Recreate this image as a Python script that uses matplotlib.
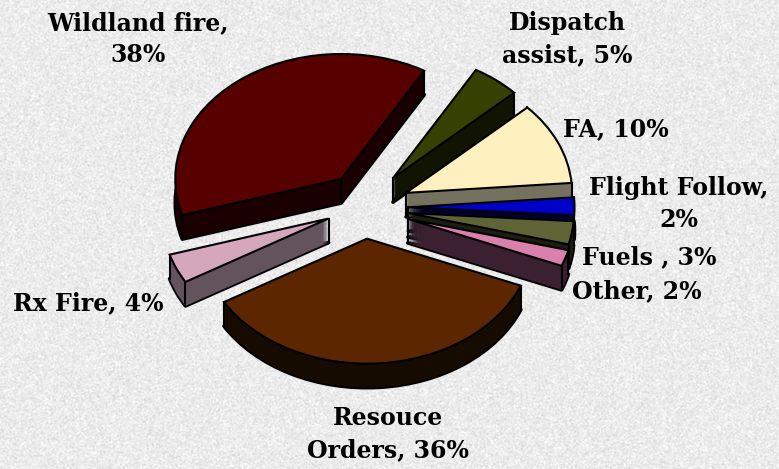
#!/usr/bin/env python
"""
Exploded 3D looking pie of dispatch workload on a speckled grey background
"""

import numpy as np
import matplotlib
matplotlib.use("Agg")
import matplotlib.pyplot as plt
from matplotlib.patches import Wedge

categories = ["Wildland fire", "Rx Fire", "Resouce Orders", "Other", "Fuels",
              "Flight Follow", "FA", "Dispatch assist"]
slice_sizes = [38.0, 3.8, 35.4, 2.1, 3.0, 2.3, 10.7, 4.7]
explode = [0.24, 0.22, 0.25, 0.29, 0.28, 0.28, 0.29, 0.30]
# The original does not pull every slice exactly along its middle, in pixels
nudge_x = [4, 0, 2, 0, 0, 0, 0, 0]
nudge_y = [-5, 0, 0, 0, 0, 0, 0, 0]
top_colors = ["#560000", "#d4a7bd", "#5c2600", "#da80ac", "#5f6437",
              "#0000c8", "#fff0c0", "#364000"]
wall_colors = ["#1a0000", "#63535c", "#160b00", "#3a2030", "#1c1e10",
               "#000030", "#75715f", "#101400"]
# Back to front, so the slices on the right overlap like in the original
draw_order = [0, 7, 6, 5, 4, 3, 1, 2]

# Label text and where it sits, in pixels of the picture
labels = ["Wildland fire,\n38%", "Dispatch\nassist, 5%", "FA, 10%",
          "Flight Follow,\n2%", "Fuels , 3%", "Other, 2%", "Rx Fire, 4%",
          "Resouce\nOrders, 36%"]
label_x = [138, 567, 616, 679, 649, 637, 88, 388]
label_y = [39, 39, 129, 204, 257, 291, 303, 434]

WIDTH, HEIGHT = 779, 469
CENTER_X, CENTER_Y = 362, 207.5
RADIUS_X, RADIUS_Y = 166, 125
DEPTH = 24 / RADIUS_Y

fig = plt.figure(figsize=(WIDTH / 100, HEIGHT / 100), dpi=100)

# Speckled paper background, only a texture and no part of the data
rng = np.random.default_rng(3)
speckle = rng.normal(0, 1, (HEIGHT, WIDTH))
speckle = (speckle + np.roll(speckle, 1, 0) + np.roll(speckle, 1, 1)
           + np.roll(speckle, (1, 1), (0, 1))) / 4
paper = np.clip(235 + 12 * speckle, 0, 255) / 255
fig.figimage(paper, cmap="gray", vmin=0, vmax=1, zorder=-10)

ax = fig.add_axes([0, 0, 1, 1])
ax.patch.set_alpha(0)
wedges, _ = ax.pie(slice_sizes, explode=explode, colors=top_colors,
                   startangle=60, radius=1,
                   wedgeprops={"edgecolor": "black", "linewidth": 1.5})

# Stretching the limits by hand turns the circle into the tilted ellipse
ax.set_aspect("auto")
ax.set_xlim(-CENTER_X / RADIUS_X, (WIDTH - CENTER_X) / RADIUS_X)
ax.set_ylim((CENTER_Y - HEIGHT) / RADIUS_Y, CENTER_Y / RADIUS_Y)

for rank, i in enumerate(draw_order):
    top = wedges[i]
    base_z = 10 + rank * 10
    top.set_zorder(base_z + 5)
    cx = top.center[0] + nudge_x[i] / RADIUS_X
    cy = top.center[1] - nudge_y[i] / RADIUS_Y
    top.set_center((cx, cy))

    def copy_at(drop, **style):
        patch = Wedge((cx, cy - drop), top.r, top.theta1, top.theta2,
                      joinstyle="round", **style)
        ax.add_patch(patch)
        return patch

    # Thin light line under the wall
    copy_at(DEPTH + 0.014, facecolor="none", edgecolor="#e4e4e4",
            linewidth=1.4, zorder=base_z)
    # Outline of the bottom goes below the wall, so only its outer half shows
    copy_at(DEPTH, facecolor="none", edgecolor="black", linewidth=2.6,
            zorder=base_z + 1)
    # Wall is a stack of copies going down from the top face
    for drop in np.linspace(0, DEPTH, 25):
        copy_at(drop, facecolor=wall_colors[i], edgecolor="none",
                zorder=base_z + 2)

    # Vertical edges at the tip and at both ends of the arc
    corners = [(cx, cy)]
    for angle in (top.theta1, top.theta2):
        corners.append((cx + np.cos(np.radians(angle)),
                        cy + np.sin(np.radians(angle))))
    for x, y in corners:
        ax.plot([x, x], [y, y - DEPTH], color="black", linewidth=1.5,
                zorder=base_z + 3)

for text, x, y in zip(labels, label_x, label_y):
    fig.text(x / WIDTH, 1 - y / HEIGHT, text, ha="center", va="center",
             family="DejaVu Serif", weight="bold", fontsize=17,
             linespacing=1.4, color="#000000", zorder=500)

fig.savefig("out.png", dpi=100)
